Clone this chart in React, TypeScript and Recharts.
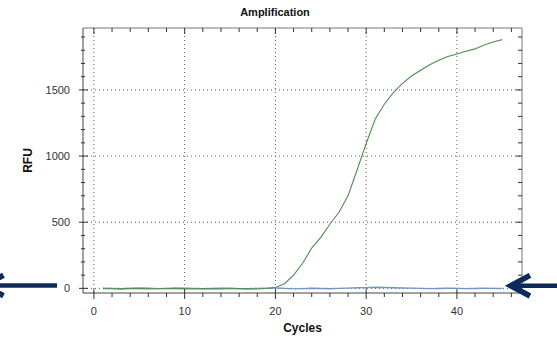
import React from 'react';
import { LineChart, Line, XAxis, YAxis, ReferenceLine } from 'recharts';

const cycles = [1, 2, 3, 4, 5, 6, 7, 8, 9, 10, 11, 12, 13, 14, 15, 16, 17, 18, 19, 20, 21, 22, 23, 24, 25, 26, 27, 28, 29, 30, 31, 32, 33, 34, 35, 36, 37, 38, 39, 40, 41, 42, 43, 44, 45];
const greenRFU = [-2, -3, -4, -1, -2, -4, -3, -1, -2, -4, -3, -2, -4, -5, -3, -2, -4, -5, -1, 6, 35, 100, 190, 305, 385, 485, 575, 700, 895, 1095, 1280, 1392, 1480, 1550, 1605, 1648, 1690, 1725, 1752, 1772, 1792, 1810, 1840, 1862, 1880];
const blueRFU = [2, 0, -3, 1, 4, 2, -2, 0, 3, 1, -1, -3, 0, 2, 1, -2, -3, 0, 2, 3, 0, -4, -2, 1, -1, -3, 0, 2, 5, 6, 8, 7, 5, 3, 2, 0, -2, -1, 1, 0, -2, -1, 1, 0, -1];

const xTicks = [0, 2, 4, 6, 8, 10, 12, 14, 16, 18, 20, 22, 24, 26, 28, 30, 32, 34, 36, 38, 40, 42, 44, 46];
const yTicks = [0, 100, 200, 300, 400, 500, 600, 700, 800, 900, 1000, 1100, 1200, 1300, 1400, 1500, 1600, 1700, 1800, 1900];
const xMajor = [0, 10, 20, 30, 40];
const yMajor = [0, 500, 1000, 1500];
const xDomain = [-1.2, 47.17];
const yDomain = [-35, 1968];

const data = cycles.map((c, i) => ({ cycle: c, green: greenRFU[i], blue: blueRFU[i] }));

const FONT = '"Liberation Sans", Arial, sans-serif';
const TICK = '#333';
const FRAME = '#777';

const LeftTick = (p: any) => {
  const { x, y, payload } = p;
  const major = yMajor.includes(payload.value);
  return (
    <g>
      <line x1={major ? x - 4 : x - 2} x2={major ? x + 5 : x + 2} y1={y} y2={y} stroke={TICK} strokeWidth={1} />
      {major && (
        <text x={x - 13} y={y} dy={4} textAnchor="end" fontSize={11} fontFamily={FONT} fill="#333">
          {payload.value}
        </text>
      )}
    </g>
  );
};

const BottomTick = (p: any) => {
  const { x, y, payload } = p;
  const major = xMajor.includes(payload.value);
  return (
    <g>
      <line x1={x} x2={x} y1={major ? y - 4 : y} y2={major ? y + 6 : y + 4} stroke={TICK} strokeWidth={1} />
      {major && (
        <text x={x} y={y + 22} textAnchor="middle" fontSize={11} fontFamily={FONT} fill="#333">
          {payload.value}
        </text>
      )}
    </g>
  );
};

const TopTick = (p: any) => {
  const { x, y, payload } = p;
  const major = xMajor.includes(payload.value);
  return <line x1={x} x2={x} y1={y} y2={major ? y + 6 : y + 4} stroke={TICK} strokeWidth={1} />;
};

const RightTick = (p: any) => {
  const { x, y, payload } = p;
  const major = yMajor.includes(payload.value);
  return <line x1={major ? x - 6 : x - 4} x2={x} y1={y} y2={y} stroke={TICK} strokeWidth={1} />;
};

const ARROW = '#0c2a5b';

export default function App() {
  return (
    <div style={{ position: 'absolute', left: 0, top: 0, width: 557, height: 339, background: '#fff', overflow: 'hidden' }}>
      <LineChart width={557} height={339} data={data} margin={{ top: 27, right: 34, bottom: 0, left: 0 }}>
        {xMajor.map((v) => (
          <ReferenceLine key={'vx' + v} x={v} xAxisId="x" yAxisId="y" stroke="#555" strokeDasharray="1 3" />
        ))}
        {yMajor.map((v) => (
          <ReferenceLine key={'hy' + v} y={v} xAxisId="x" yAxisId="y" stroke="#555" strokeDasharray="1 3" />
        ))}
        <XAxis
          xAxisId="x"
          dataKey="cycle"
          type="number"
          domain={xDomain}
          allowDataOverflow
          ticks={xTicks}
          interval={0}
          height={46}
          tickSize={0}
          tickMargin={0}
          tickLine={false}
          tick={BottomTick}
          axisLine={{ stroke: '#444' }}
          label={{
            content: (props: any) => {
              const vb = props.viewBox || {};
              return (
                <text x={vb.x + vb.width / 2} y={vb.y + 39} textAnchor="middle" fontSize={12} fontWeight="bold" fontFamily={FONT} fill="#111">
                  Cycles
                </text>
              );
            },
          }}
        />
        <XAxis
          xAxisId="xt"
          orientation="top"
          dataKey="cycle"
          type="number"
          domain={xDomain}
          allowDataOverflow
          ticks={xTicks}
          interval={0}
          height={1}
          tickSize={0}
          tickMargin={0}
          tickLine={false}
          tick={TopTick}
          axisLine={{ stroke: FRAME }}
        />
        <YAxis
          yAxisId="y"
          type="number"
          domain={yDomain}
          allowDataOverflow
          ticks={yTicks}
          interval={0}
          width={83}
          tickSize={0}
          tickMargin={0}
          tickLine={false}
          tick={LeftTick}
          axisLine={{ stroke: '#444' }}
          label={{
            content: (props: any) => {
              const vb = props.viewBox || {};
              const cy = vb.y + vb.height / 2;
              return (
                <text x={28} y={cy} transform={`rotate(-90 28 ${cy})`} textAnchor="middle" dominantBaseline="central" fontSize={12} fontWeight="bold" fontFamily={FONT} fill="#111">
                  RFU
                </text>
              );
            },
          }}
        />
        <YAxis
          yAxisId="yr"
          orientation="right"
          type="number"
          domain={yDomain}
          allowDataOverflow
          ticks={yTicks}
          interval={0}
          width={1}
          tickSize={0}
          tickMargin={0}
          tickLine={false}
          tick={RightTick}
          axisLine={{ stroke: FRAME }}
        />
        <Line xAxisId="xt" yAxisId="yr" type="linear" dataKey="green" stroke="none" strokeWidth={0} dot={false} activeDot={false} legendType="none" isAnimationActive={false} />
        <Line xAxisId="x" yAxisId="y" type="linear" dataKey="blue" stroke="#7097c2" strokeWidth={1.4} dot={false} isAnimationActive={false} />
        <Line xAxisId="x" yAxisId="y" type="linear" dataKey="green" stroke="#4f8f4f" strokeWidth={1.1} dot={false} isAnimationActive={false} />
      </LineChart>
      <div style={{ position: 'absolute', left: 0, top: 6, width: 550, textAlign: 'center', fontFamily: FONT, fontWeight: 'bold', fontSize: 11, color: '#111', lineHeight: '13px' }}>
        Amplification
      </div>
      <svg width={557} height={339} style={{ position: 'absolute', left: 0, top: 0, pointerEvents: 'none' }}>
        <line x1={-14} y1={285.5} x2={57} y2={285.5} stroke={ARROW} strokeWidth={4.5} />
        <polyline points="3.5,275.2 -16,285.5 3.5,295.8" fill="none" stroke={ARROW} strokeWidth={5.5} />
        <line x1={513} y1={285.7} x2={562} y2={285.7} stroke={ARROW} strokeWidth={4.5} />
        <polyline points="530,275.4 510.7,285.7 530,296" fill="none" stroke={ARROW} strokeWidth={5.5} />
      </svg>
    </div>
  );
}
